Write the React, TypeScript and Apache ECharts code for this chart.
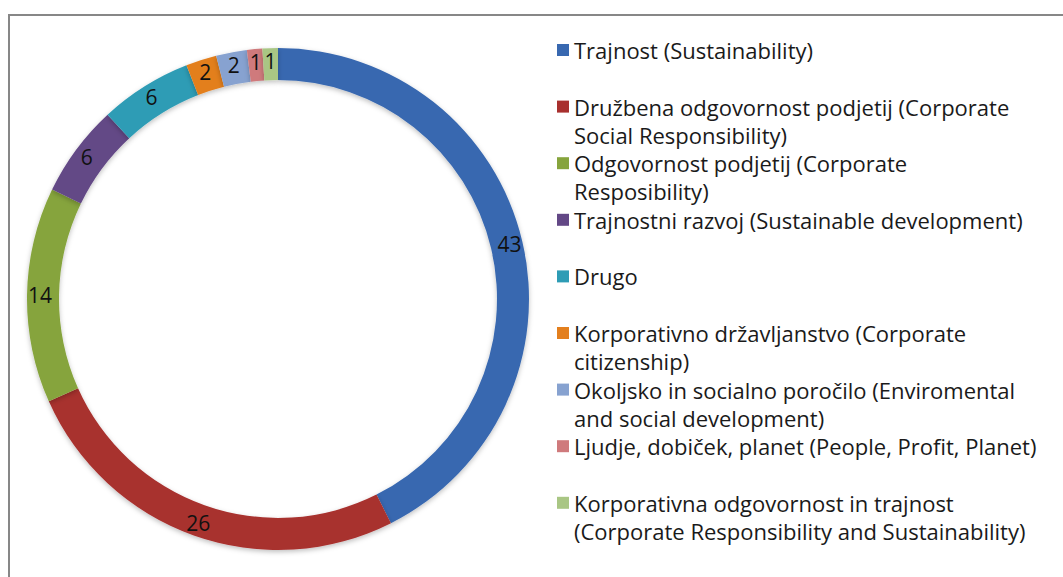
import React, { useEffect, useRef } from "react";
import * as echarts from "echarts";

const categories = [
  "Trajnost (Sustainability)",
  "Družbena odgovornost podjetij (Corporate",
  "Odgovornost podjetij (Corporate",
  "Trajnostni razvoj (Sustainable development)",
  "Drugo",
  "Korporativno državljanstvo (Corporate",
  "Okoljsko in socialno poročilo (Enviromental",
  "Ljudje, dobiček, planet (People, Profit, Planet)",
  "Korporativna odgovornost in trajnost",
];
const continuationLines = [
  "",
  "Social Responsibility)",
  "Resposibility)",
  "",
  "",
  "citizenship)",
  "and social development)",
  "",
  "(Corporate Responsibility and Sustainability)",
];
const values = [43, 26, 14, 6, 6, 2, 2, 1, 1];
const colors = [
  "#3868B0",
  "#A8302E",
  "#86A43C",
  "#634886",
  "#2E9CB5",
  "#E37F1E",
  "#87A2D0",
  "#CF7A7C",
  "#A9C684",
];

const FONT = "'Open Sans', 'Noto Sans', sans-serif";
const LEGEND_TOP = 38;
const LEGEND_STEP = 56.6;
const LINE_H = 24;

export default function App() {
  const ref = useRef<HTMLDivElement>(null);
  useEffect(() => {
    document.body.style.margin = "0";
    if (!ref.current) return;
    const chart = echarts.init(ref.current, undefined, { renderer: "svg" });
    const graphics: any[] = [
      {
        type: "rect",
        shape: { x: 9, y: 15, width: 1100, height: 600 },
        style: { fill: "none", stroke: "#878787", lineWidth: 2 },
        silent: true,
      },
    ];
    continuationLines.forEach((t, i) => {
      if (!t) return;
      graphics.push({
        type: "text",
        x: 574,
        y: LEGEND_TOP + i * LEGEND_STEP + LINE_H / 2 + 28,
        style: {
          text: t,
          font: `22px ${FONT}`,
          fill: "#1a1a1a",
          verticalAlign: "middle",
        },
      });
    });
    chart.setOption({
      animation: false,
      backgroundColor: "#ffffff",
      graphic: graphics,
      legend: {
        orient: "vertical",
        left: 557,
        top: LEGEND_TOP,
        padding: 0,
        itemWidth: 12,
        itemHeight: 12,
        itemGap: LEGEND_STEP - LINE_H,
        icon: "rect",
        selectedMode: false,
        data: categories,
        textStyle: {
          fontFamily: FONT,
          fontSize: 22,
          color: "#1a1a1a",
          lineHeight: LINE_H,
          height: LINE_H,
        },
      },
      series: [
        {
          type: "pie",
          center: [278, 299],
          radius: [219, 251],
          startAngle: 90,
          clockwise: true,
          avoidLabelOverlap: false,
          label: {
            show: true,
            position: "inside",
            formatter: "{c}",
            fontFamily: FONT,
            fontSize: 21,
            color: "#111",
          },
          labelLine: { show: false },
          itemStyle: {
            shadowBlur: 5,
            shadowColor: "rgba(0,0,0,0.25)",
            shadowOffsetY: 2,
          },
          emphasis: { disabled: true },
          data: categories.map((name, i) => ({
            name,
            value: values[i],
            itemStyle: { color: colors[i] },
          })),
        },
      ],
    });
    return () => chart.dispose();
  }, []);
  return <div ref={ref} style={{ width: 1063, height: 577 }} />;
}
